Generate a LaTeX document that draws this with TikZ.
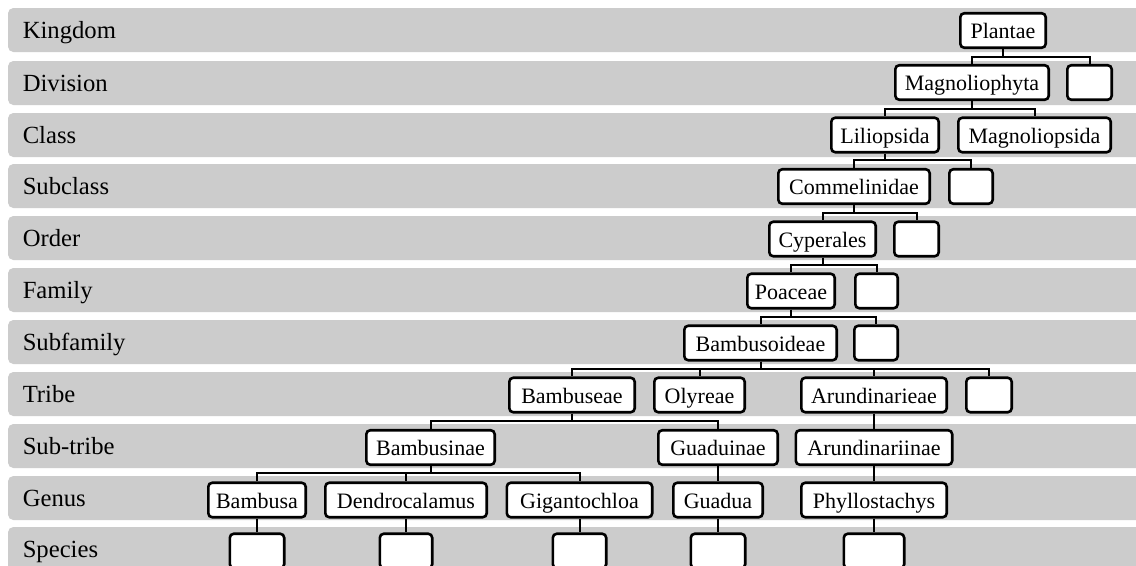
\documentclass[tikz,border=0pt]{standalone}
\usepackage{fontspec}
\setmainfont{Liberation Serif}
\definecolor{bandgray}{HTML}{CCCCCC}
\newcommand\mybox[5]{\node[box, minimum width={(#4-2.6)*0.75pt}] (#1) at (#2,#3) {#5};}
\newcommand\lk[3]{\draw[link] (#1.south) -- (#1.south |- #3) -| (#2.north);}
\newcommand\st[2]{\draw[link] (#1.south) -- (#2.north);}
\begin{document}
\begin{tikzpicture}[x=0.75pt,y=-0.75pt,
  box/.style={draw, line width=1.95pt, rounded corners=3pt, fill=white, inner sep=0pt,
    minimum height=25.9pt, text height=14pt, text depth=2pt,
    font=\fontsize{16.5}{18}\selectfont},
  lbl/.style={anchor=base west, inner sep=0pt, font=\fontsize{18.5}{20}\selectfont},
  link/.style={line width=1.5pt}]
\useasboundingbox (0,0) rectangle (1136,565);
\clip (0,0) rectangle (1136,565);
\fill[white] (0,0) rectangle (1136,565);
% bands and rank labels
\foreach \t/\name [count=\i] in {8/Kingdom,61/Division,113/Class,164/Subclass,216/Order,268/Family,320/Subfamily,372/Tribe,424/Sub-tribe,476/Genus,527/Species}{
  \fill[bandgray, rounded corners=4pt] (8,\t) rectangle ({1170},{\t+44});
  \node[lbl] (lab\i) at (22.5,{\t+30.5}) {\name};
}
% bar levels
\coordinate (b1) at (0,57);
\coordinate (b2) at (0,109);
\coordinate (b3) at (0,160);
\coordinate (b4) at (0,213);
\coordinate (b5) at (0,265);
\coordinate (b6) at (0,317);
\coordinate (b7) at (0,368.5);
\coordinate (b8) at (0,420.5);
\coordinate (b9) at (0,473);
% boxes
\mybox{plantae}{1003}{30.5}{88}{Plantae}
\mybox{magnoliophyta}{972}{82.5}{156}{Magnoliophyta}
\mybox{dE}{1089.5}{82.5}{47}{}
\mybox{liliopsida}{885}{135}{110}{Liliopsida}
\mybox{magnoliopsida}{1034.5}{135}{155}{Magnoliopsida}
\mybox{commelinidae}{854}{186.5}{154}{Commelinidae}
\mybox{scE}{971}{186.5}{46}{}
\mybox{cyperales}{822.5}{239}{109}{Cyperales}
\mybox{oE}{916.5}{239}{47}{}
\mybox{poaceae}{791}{291}{90}{Poaceae}
\mybox{fE}{876.5}{291}{45}{}
\mybox{bambusoideae}{760.5}{343}{155}{Bambusoideae}
\mybox{sfE}{876}{343}{46}{}
\mybox{bambuseae}{572}{395}{128}{Bambuseae}
\mybox{olyreae}{699.5}{395}{93}{Olyreae}
\mybox{arundinarieae}{874}{395}{148}{Arundinarieae}
\mybox{tE}{989}{395}{48}{}
\mybox{bambusinae}{430.5}{447.5}{131}{Bambusinae}
\mybox{guaduinae}{718}{447.5}{122}{Guaduinae}
\mybox{arundinariinae}{874}{447.5}{159}{Arundinariinae}
\mybox{bambusa}{257}{500}{100}{Bambusa}
\mybox{dendrocalamus}{406}{500}{164}{Dendrocalamus}
\mybox{gigantochloa}{579.5}{500}{148}{Gigantochloa}
\mybox{guadua}{718}{500}{92}{Guadua}
\mybox{phyllostachys}{874}{500}{148}{Phyllostachys}
\mybox{s1}{257}{551}{57}{}
\mybox{s2}{406}{551}{55}{}
\mybox{s3}{579.5}{551}{56}{}
\mybox{s4}{718}{551}{57}{}
\mybox{s5}{874}{551}{63}{}
% connectors
\lk{plantae}{magnoliophyta}{b1}
\lk{plantae}{dE}{b1}
\lk{magnoliophyta}{liliopsida}{b2}
\lk{magnoliophyta}{magnoliopsida}{b2}
\lk{liliopsida}{commelinidae}{b3}
\lk{liliopsida}{scE}{b3}
\lk{commelinidae}{cyperales}{b4}
\lk{commelinidae}{oE}{b4}
\lk{cyperales}{poaceae}{b5}
\lk{cyperales}{fE}{b5}
\lk{poaceae}{bambusoideae}{b6}
\lk{poaceae}{sfE}{b6}
\lk{bambusoideae}{bambuseae}{b7}
\lk{bambusoideae}{olyreae}{b7}
\lk{bambusoideae}{arundinarieae}{b7}
\lk{bambusoideae}{tE}{b7}
\lk{bambuseae}{bambusinae}{b8}
\lk{bambuseae}{guaduinae}{b8}
\st{arundinarieae}{arundinariinae}
\lk{bambusinae}{bambusa}{b9}
\lk{bambusinae}{dendrocalamus}{b9}
\lk{bambusinae}{gigantochloa}{b9}
\st{guaduinae}{guadua}
\st{arundinariinae}{phyllostachys}
\st{bambusa}{s1}
\st{dendrocalamus}{s2}
\st{gigantochloa}{s3}
\st{guadua}{s4}
\st{phyllostachys}{s5}
\end{tikzpicture}
\end{document}
